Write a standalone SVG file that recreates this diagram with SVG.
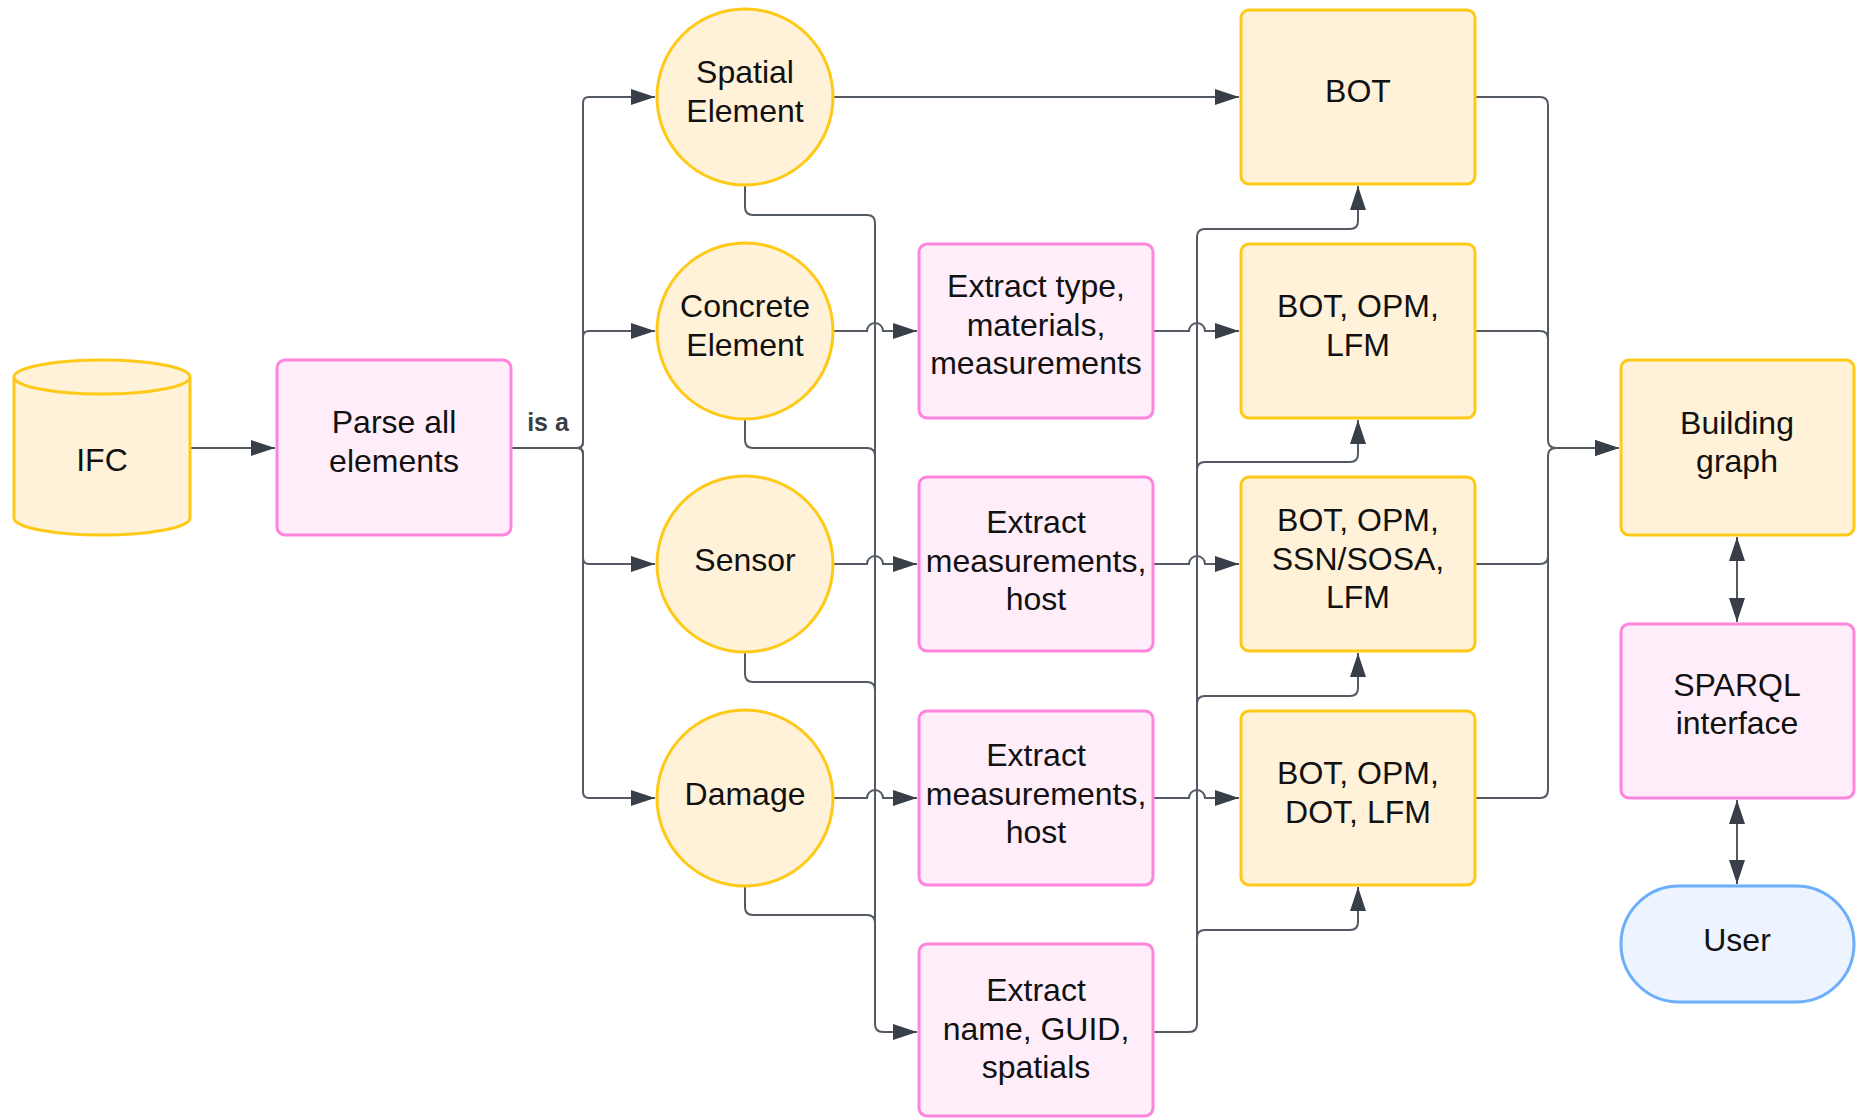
<svg xmlns="http://www.w3.org/2000/svg" width="1859" height="1118" viewBox="0 0 1859 1118">
<style>
.y{fill:#fff2d9;stroke:#ffc918;stroke-width:3}
.p{fill:#ffeef9;stroke:#ff84dd;stroke-width:3}
.b{fill:#edf4ff;stroke:#6aaefc;stroke-width:3}
.t{font-family:"Liberation Sans",Arial,sans-serif;font-size:32px;fill:#111;text-anchor:middle}
.l{fill:none;stroke:#535a64;stroke-width:2}
.a{marker-end:url(#ah)}
.lb{font-family:"Liberation Sans",Arial,sans-serif;font-size:25px;font-weight:bold;fill:#3a3f46;text-anchor:middle}
</style>
<defs>
<marker id="ah" markerUnits="userSpaceOnUse" markerWidth="25" markerHeight="18" refX="24" refY="8" orient="auto-start-reverse" viewBox="0 0 25 16">
<path d="M0,0 L24,8 L0,16 z" fill="#383f49"/>
</marker>
</defs>
<rect width="1859" height="1118" fill="#fff"/>
<g id="connectors">
<path class="l a" d="M190,448 H275"/>
<path class="l a" d="M511,448 H577 Q583,448 583,442 V103 Q583,97 589,97 H655"/>
<path class="l a" d="M511,448 H577 Q583,448 583,442 V337 Q583,331 589,331 H655"/>
<path class="l a" d="M511,448 H577 Q583,448 583,454 V558 Q583,564 589,564 H655"/>
<path class="l a" d="M511,448 H577 Q583,448 583,454 V792 Q583,798 589,798 H655"/>
<path class="l a" d="M745,185 V207 Q745,215 753,215 H867 Q875,215 875,223 V1024 Q875,1032 883,1032 H917"/>
<path class="l" d="M745,419 V440 Q745,448 753,448 H867 Q875,448 875,456"/>
<path class="l" d="M745,652 V674 Q745,682 753,682 H867 Q875,682 875,690"/>
<path class="l" d="M745,886 V907 Q745,915 753,915 H867 Q875,915 875,923"/>
<path class="l a" d="M833,97 H1239"/>
<path class="l a" d="M833,331 H867 a8,8 0 0 1 16,0 H917"/>
<path class="l a" d="M833,564 H867 a8,8 0 0 1 16,0 H917"/>
<path class="l a" d="M833,798 H867 a8,8 0 0 1 16,0 H917"/>
<path class="l a" d="M1153,331 H1189 a8,8 0 0 1 16,0 H1239"/>
<path class="l a" d="M1153,564 H1189 a8,8 0 0 1 16,0 H1239"/>
<path class="l a" d="M1153,798 H1189 a8,8 0 0 1 16,0 H1239"/>
<path class="l a" d="M1153,1032 H1189 Q1197,1032 1197,1024 V237 Q1197,229 1205,229 H1350 Q1358,229 1358,221 V186"/>
<path class="l a" d="M1197,470 Q1197,462 1205,462 H1350 Q1358,462 1358,454 V420"/>
<path class="l a" d="M1197,704 Q1197,696 1205,696 H1350 Q1358,696 1358,688 V653"/>
<path class="l a" d="M1197,938 Q1197,930 1205,930 H1350 Q1358,930 1358,922 V887"/>
<path class="l a" d="M1475,97 H1540 Q1548,97 1548,105 V440 Q1548,448 1556,448 H1619"/>
<path class="l" d="M1475,331 H1540 Q1548,331 1548,339 V440"/>
<path class="l a" d="M1475,564 H1540 Q1548,564 1548,556 V456 Q1548,448 1556,448 H1619"/>
<path class="l" d="M1475,798 H1540 Q1548,798 1548,790 V456"/>
<path class="l a" d="M1737,537 V622" marker-start="url(#ah)"/>
<path class="l a" d="M1737,800 V884" marker-start="url(#ah)"/>
<text class="lb" x="548" y="431">is a</text>
</g>
<g id="ifc">
<path class="y" d="M14,377 A88,17 0 0 1 190,377 V518 A88,17 0 0 1 14,518 Z"/>
<path fill="none" stroke="#ffc918" stroke-width="3" d="M14,377 A88,17 0 0 0 190,377"/>
<text class="t" x="102" y="471">IFC</text>
</g>
<g id="parse">
<rect class="p" x="277" y="360" width="234" height="175" rx="8"/>
<text class="t" x="394" y="433">Parse all</text>
<text class="t" x="394" y="472">elements</text>
</g>
<g id="spatial">
<circle class="y" cx="745" cy="97" r="88"/>
<text class="t" x="745" y="83">Spatial</text>
<text class="t" x="745" y="122">Element</text>
</g>
<g id="concrete">
<circle class="y" cx="745" cy="331" r="88"/>
<text class="t" x="745" y="317">Concrete</text>
<text class="t" x="745" y="356">Element</text>
</g>
<g id="sensor">
<circle class="y" cx="745" cy="564" r="88"/>
<text class="t" x="745" y="571">Sensor</text>
</g>
<g id="damage">
<circle class="y" cx="745" cy="798" r="88"/>
<text class="t" x="745" y="805">Damage</text>
</g>
<g id="extract-type">
<rect class="p" x="919" y="244" width="234" height="174" rx="8"/>
<text class="t" x="1036" y="297">Extract type,</text>
<text class="t" x="1036" y="336">materials,</text>
<text class="t" x="1036" y="374">measurements</text>
</g>
<g id="extract-sensor">
<rect class="p" x="919" y="477" width="234" height="174" rx="8"/>
<text class="t" x="1036" y="533">Extract</text>
<text class="t" x="1036" y="572">measurements,</text>
<text class="t" x="1036" y="610">host</text>
</g>
<g id="extract-damage">
<rect class="p" x="919" y="711" width="234" height="174" rx="8"/>
<text class="t" x="1036" y="766">Extract</text>
<text class="t" x="1036" y="805">measurements,</text>
<text class="t" x="1036" y="843">host</text>
</g>
<g id="extract-name">
<rect class="p" x="919" y="944" width="234" height="172" rx="8"/>
<text class="t" x="1036" y="1001">Extract</text>
<text class="t" x="1036" y="1040">name, GUID,</text>
<text class="t" x="1036" y="1078">spatials</text>
</g>
<g id="bot">
<rect class="y" x="1241" y="10" width="234" height="174" rx="8"/>
<text class="t" x="1358" y="102">BOT</text>
</g>
<g id="bot-opm-lfm">
<rect class="y" x="1241" y="244" width="234" height="174" rx="8"/>
<text class="t" x="1358" y="317">BOT, OPM,</text>
<text class="t" x="1358" y="356">LFM</text>
</g>
<g id="bot-opm-ssn">
<rect class="y" x="1241" y="477" width="234" height="174" rx="8"/>
<text class="t" x="1358" y="531">BOT, OPM,</text>
<text class="t" x="1358" y="570">SSN/SOSA,</text>
<text class="t" x="1358" y="608">LFM</text>
</g>
<g id="bot-opm-dot">
<rect class="y" x="1241" y="711" width="234" height="174" rx="8"/>
<text class="t" x="1358" y="784">BOT, OPM,</text>
<text class="t" x="1358" y="823">DOT, LFM</text>
</g>
<g id="building-graph">
<rect class="y" x="1621" y="360" width="233" height="175" rx="8"/>
<text class="t" x="1737" y="434">Building</text>
<text class="t" x="1737" y="472">graph</text>
</g>
<g id="sparql">
<rect class="p" x="1621" y="624" width="233" height="174" rx="8"/>
<text class="t" x="1737" y="696">SPARQL</text>
<text class="t" x="1737" y="734">interface</text>
</g>
<g id="user">
<rect class="b" x="1621" y="886" width="233" height="116" rx="58"/>
<text class="t" x="1737" y="951">User</text>
</g>
</svg>
